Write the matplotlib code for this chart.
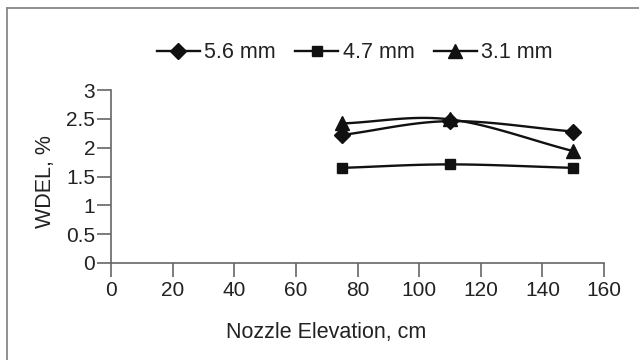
import numpy as np
import matplotlib.pyplot as plt
from matplotlib.lines import Line2D

plt.rcParams['font.family'] = ['Liberation Sans', 'DejaVu Sans']

elevation = [75, 110, 150]
wdel_56 = [2.22, 2.46, 2.28]
wdel_47 = [1.65, 1.71, 1.65]
wdel_31 = [2.42, 2.49, 1.94]
labels = ['5.6 mm', '4.7 mm', '3.1 mm']
markers = ['D', 's', '^']
msizes = [8, 7, 10]


def smooth(x, y, n=60):
    # Catmull-Rom curve through the points, like a spreadsheet smoothed line
    p = np.column_stack([x, y]).astype(float)
    p = np.vstack([2 * p[0] - p[1], p, 2 * p[-1] - p[-2]])
    out = []
    for i in range(1, len(p) - 2):
        p0, p1, p2, p3 = p[i - 1], p[i], p[i + 1], p[i + 2]
        t = np.linspace(0, 1, n)[:, None]
        c = 0.5 * ((2 * p1) + (-p0 + p2) * t + (2 * p0 - 5 * p1 + 4 * p2 - p3) * t ** 2
                   + (-p0 + 3 * p1 - 3 * p2 + p3) * t ** 3)
        out.append(c)
    c = np.vstack(out)
    return c[:, 0], c[:, 1]


fig = plt.figure(figsize=(6.39, 3.6), dpi=100)
ax = fig.add_axes([111 / 639, 1 - 263 / 360, 493 / 639, 173 / 360])

for ys, m, ms in zip([wdel_56, wdel_47, wdel_31], markers, msizes):
    sx, sy = smooth(elevation, ys)
    ax.plot(sx, sy, color='#111111', lw=1.7)
    ax.plot(elevation, ys, linestyle='none', marker=m, ms=ms, color='#111111')

ax.set_xlim(0, 160)
ax.set_ylim(0, 3)
ax.set_xticks(range(0, 161, 20))
ax.set_yticks([0, 0.5, 1, 1.5, 2, 2.5, 3])
ax.set_yticklabels(['0', '0.5', '1', '1.5', '2', '2.5', '3'])
for s in ['top', 'right']:
    ax.spines[s].set_visible(False)
for s in ['left', 'bottom']:
    ax.spines[s].set_color('#666666')
    ax.spines[s].set_linewidth(1.2)
ax.tick_params(axis='y', direction='out', length=10, width=1.2, color='#666666',
               pad=1.5, labelsize=15, labelcolor='#222222')
ax.tick_params(axis='x', direction='out', length=10, width=1.2, color='#666666',
               pad=3, labelsize=15, labelcolor='#222222')

ax.set_xlabel('Nozzle Elevation, cm', fontsize=15.5, color='#222222')
ax.xaxis.set_label_coords(0.436, -0.34)
ax.set_ylabel('WDEL, %', fontsize=15.5, color='#222222')
ax.yaxis.set_label_coords(-0.112, 0.468)

handles = [Line2D([], [], color='#111111', lw=1.7, marker=m, ms=ms)
           for m, ms in zip(markers, msizes)]
fig.legend(handles, labels, loc='center', bbox_to_anchor=(0.555, 0.853), ncol=3,
           frameon=False, fontsize=15.5, handlelength=2.0, handletextpad=0.2,
           columnspacing=0.9, labelcolor='#222222')

# page frame on the left and top edges
fig.add_artist(Line2D([6.5 / 639, 6.5 / 639], [0, 1 - 7.5 / 360], color='#888888', lw=1.3))
fig.add_artist(Line2D([6.5 / 639, 1], [1 - 7.5 / 360, 1 - 7.5 / 360], color='#888888', lw=1.3))

fig.savefig('out.png', dpi=100)
